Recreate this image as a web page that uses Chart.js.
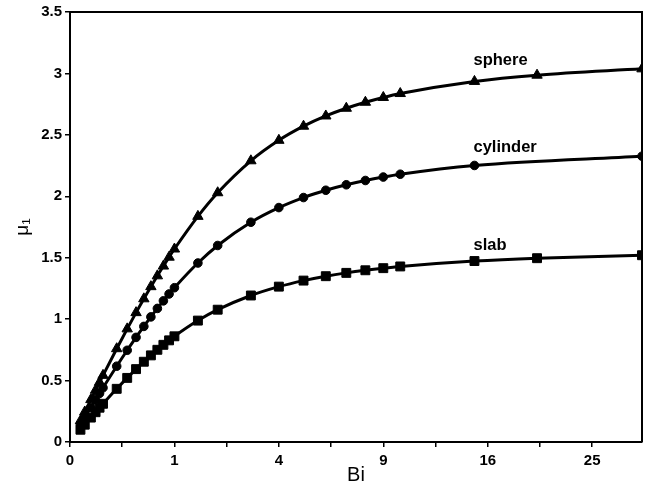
<!DOCTYPE html>
<html>
<head>
<meta charset="utf-8">
<script src="https://cdn.jsdelivr.net/npm/chart.js@4.4.0/dist/chart.umd.min.js"></script>
<style>
  html, body { margin: 0; padding: 0; background: #fff; }
  canvas { display: block; }
</style>
</head>
<body>
<canvas id="chart" width="652" height="487"></canvas>
<script>
// Biot numbers at which the first eigenvalue is tabulated
const biValues = [0.01, 0.02, 0.04, 0.06, 0.08, 0.1, 0.2, 0.3, 0.4, 0.5, 0.6, 0.7, 0.8, 0.9, 1, 1.5, 2, 3, 4, 5, 6, 7, 8, 9, 10, 15, 20, 30];

// first eigenvalue mu1 for each geometry
const slabMu = [0.0998, 0.1410, 0.1987, 0.2425, 0.2791, 0.3111, 0.4328, 0.5218, 0.5932, 0.6533, 0.7051, 0.7506, 0.7910, 0.8274, 0.8603, 0.9882, 1.0769, 1.1925, 1.2646, 1.3138, 1.3496, 1.3766, 1.3978, 1.4149, 1.4289, 1.4729, 1.4961, 1.5202];
const cylinderMu = [0.1412, 0.1995, 0.2814, 0.3438, 0.3960, 0.4417, 0.6170, 0.7465, 0.8516, 0.9408, 1.0184, 1.0873, 1.1490, 1.2048, 1.2558, 1.4569, 1.5995, 1.7887, 1.9081, 1.9898, 2.0490, 2.0937, 2.1286, 2.1566, 2.1795, 2.2509, null, 2.3261];
const sphereMu = [0.1730, 0.2445, 0.3450, 0.4217, 0.4860, 0.5423, 0.7593, 0.9208, 1.0528, 1.1656, 1.2644, 1.3525, 1.4320, 1.5044, 1.5708, 1.8366, 2.0288, 2.2889, 2.4556, 2.5704, 2.6537, 2.7165, 2.7654, 2.8044, 2.8363, 2.9349, 2.9857, 3.0372];

// axis ticks (Bi axis is drawn on a square-root scale)
const biTicks = [0, 1, 4, 9, 16, 25];
const muTicks = [0, 0.5, 1, 1.5, 2, 2.5, 3, 3.5];

// curve names, written next to each curve at Bi = 15
const curveNames = ["sphere", "cylinder", "slab"];
const nameMu = [3.07, 2.36, 1.56];
const nameBi = 15;

const FONT = "Arial, 'Liberation Sans', sans-serif";

function toPoints(mu) {
  return biValues.map((b, i) => ({ x: Math.sqrt(b), y: mu[i] }));
}

// half-step minor ticks between the labelled ones
const xTickPos = [];
for (let v = 0; v <= Math.sqrt(biTicks[biTicks.length - 1]); v += 0.5) xTickPos.push(v);

const framePlugin = {
  id: "frame",
  afterDatasetsDraw(chart) {
    const { ctx, chartArea } = chart;
    const { left, top, right, bottom } = chartArea;
    ctx.save();
    ctx.strokeStyle = "#000";
    ctx.lineWidth = 2;
    ctx.beginPath();
    ctx.moveTo(left, top);
    ctx.lineTo(right, top);
    ctx.lineTo(right, bottom);
    ctx.stroke();

    const xs = chart.scales.x;
    const ys = chart.scales.y;
    ctx.fillStyle = "#000";
    ctx.font = "bold 16.5px " + FONT;
    ctx.textAlign = "left";
    ctx.textBaseline = "alphabetic";
    curveNames.forEach((name, i) => {
      ctx.fillText(name, xs.getPixelForValue(Math.sqrt(nameBi)) - 1, ys.getPixelForValue(nameMu[i]));
    });
    ctx.restore();
  }
};

const lineStyle = {
  borderColor: "#000",
  borderWidth: 3,
  pointBackgroundColor: "#000",
  pointBorderColor: "#000",
  pointBorderWidth: 1,
  cubicInterpolationMode: "monotone",
  spanGaps: true,
  fill: false
};

new Chart(document.getElementById("chart"), {
  type: "line",
  data: {
    datasets: [
      { ...lineStyle, label: "sphere", data: toPoints(sphereMu), pointStyle: "triangle", pointRadius: 6 },
      { ...lineStyle, label: "cylinder", data: toPoints(cylinderMu), pointStyle: "circle", pointRadius: 4.3 },
      { ...lineStyle, label: "slab", data: toPoints(slabMu), pointStyle: "rect", pointRadius: 6.3 }
    ]
  },
  options: {
    responsive: false,
    animation: false,
    events: [],
    layout: { padding: { top: 12, right: 10, bottom: 0, left: 0 } },
    plugins: {
      legend: { display: false },
      tooltip: { enabled: false }
    },
    scales: {
      x: {
        type: "linear",
        min: 0,
        max: Math.sqrt(30),
        afterBuildTicks: (scale) => {
          scale.ticks = xTickPos.map((v) => ({ value: v }));
        },
        afterFit: (scale) => { scale.height = 45; },
        ticks: {
          autoSkip: false,
          maxRotation: 0,
          padding: 5,
          color: "#000",
          font: { family: FONT, size: 15, weight: "bold" },
          callback: (v) => (Number.isInteger(v) ? String(v * v) : "")
        },
        grid: { drawOnChartArea: false, tickLength: 5, color: "#000", lineWidth: 1.5 },
        border: { color: "#000", width: 2 },
        title: {
          display: true,
          text: "Bi",
          color: "#000",
          font: { family: FONT, size: 20 },
          padding: { top: 0, bottom: 0 }
        }
      },
      y: {
        min: 0,
        max: 3.5,
        afterBuildTicks: (scale) => {
          scale.ticks = muTicks.map((v) => ({ value: v }));
        },
        afterFit: (scale) => { scale.width = 70; },
        ticks: {
          padding: 3,
          color: "#000",
          font: { family: FONT, size: 15, weight: "bold" },
          callback: (v) => String(v)
        },
        grid: { drawOnChartArea: false, tickLength: 5, color: "#000", lineWidth: 1.5 },
        border: { color: "#000", width: 2 },
        title: {
          display: true,
          text: "μ₁",
          color: "#000",
          font: { family: FONT, size: 19 },
          padding: { top: 11, bottom: 0 }
        }
      }
    }
  },
  plugins: [framePlugin]
});
</script>
</body>
</html>
